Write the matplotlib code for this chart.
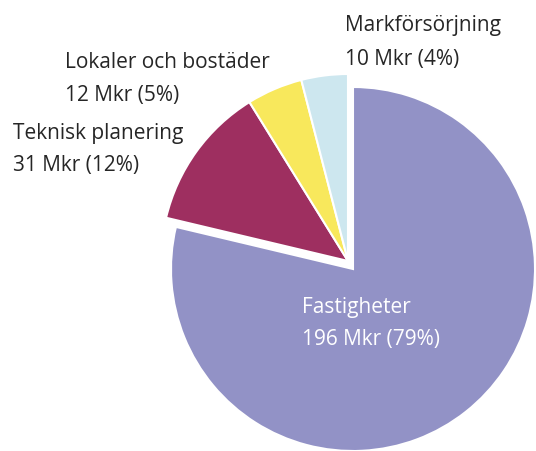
import matplotlib.pyplot as plt

# Data
kategorier = ['Fastigheter', 'Teknisk planering', 'Lokaler och bostäder', 'Markförsörjning']
belopp_mkr = [196, 31, 12, 10]
andel_pct = [79, 12, 5, 4]
farger = ['#9292C6', '#9E2F60', '#F8E85C', '#CDE7EF']

plt.rcParams['font.family'] = ['Open Sans', 'DejaVu Sans']

fig = plt.figure(figsize=(5.36, 4.52), dpi=100)
ax = fig.add_axes([0, 0, 1, 1])

total = sum(belopp_mkr)
andelar = [b / total for b in belopp_mkr]
kant = dict(edgecolor='white', linewidth=1.5)

# Den stora sektorn för sig, de små lite förskjutna uppåt/vänster
ax.pie(andelar[:1], colors=farger[:1], normalize=False, startangle=90,
       counterclock=False, center=(353, 182), radius=182,
       wedgeprops=kant, frame=True)
ax.pie(andelar[1:], colors=farger[1:], normalize=False,
       startangle=90 - 360 * andelar[0], counterclock=False,
       center=(348, 190), radius=187, wedgeprops=kant, frame=True)
ax.set_xlim(0, 536)
ax.set_ylim(0, 452)
ax.set_aspect('equal')
ax.axis('off')

# Etiketter (position i pixlar, y uppifrån)
etikett_pos = {
    'Fastigheter': (302, 307, 'white'),
    'Teknisk planering': (13, 133, '#262626'),
    'Lokaler och bostäder': (65, 63, '#262626'),
    'Markförsörjning': (345, 26, '#262626'),
}
for namn, mkr, pct in zip(kategorier, belopp_mkr, andel_pct):
    x, y, c = etikett_pos[namn]
    ax.text(x, 452 - y, namn, fontsize=15, color=c, ha='left', va='center')
    ax.text(x, 452 - y - 33, f'{mkr} Mkr ({pct}%)', fontsize=15, color=c,
            ha='left', va='center')

fig.savefig('out.png', dpi=100)
